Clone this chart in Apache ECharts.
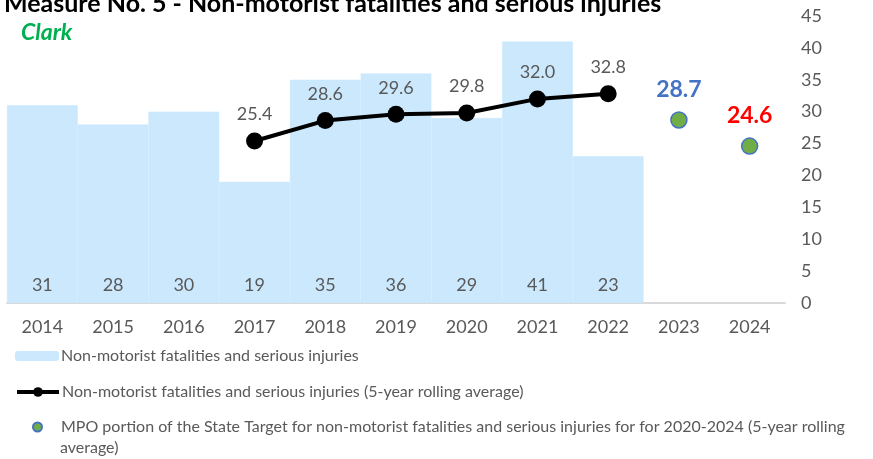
<!DOCTYPE html>
<html><head><meta charset="utf-8">
<script src="https://cdn.jsdelivr.net/npm/echarts@6/dist/echarts.min.js"></script>
<style>html,body{margin:0;padding:0;background:#fff}#c{width:873px;height:459px}</style>
</head><body><div id="c"></div>
<script>
const years = ['2014','2015','2016','2017','2018','2019','2020','2021','2022','2023','2024'];
const annual = [31, 28, 30, 19, 35, 36, 29, 41, 23, null, null];
const rolling = [null, null, null, 25.4, 28.6, 29.6, 29.8, 32.0, 32.8, null, null];
const target = [null, null, null, null, null, null, null, null, null, 28.7, 24.6];
const targetLabelColors = [null, null, null, null, null, null, null, null, null, '#4472C4', '#FF0000'];
const yTicks = [0, 45, 5];
const names = ['Non-motorist fatalities and serious injuries',
  'Non-motorist fatalities and serious injuries (5-year rolling average)',
  'MPO portion of the State Target for non-motorist fatalities and serious injuries for for 2020-2024 (5-year rolling average)'];
const wrapAt = ' average)';

const font = 'Lato, "Open Sans", sans-serif';
const targetData = target.map((v, i) => v == null ? null : {value: v, label: {color: targetLabelColors[i]}});

const chart = echarts.init(document.getElementById('c'));
chart.setOption({
  animation: false,
  textStyle: {fontFamily: font},
  title: [
    {text: 'Measure No. 5 - Non-motorist fatalities and serious injuries', left: -1, top: -14,
      textStyle: {fontSize: 25, fontWeight: 'bold', color: '#000', fontFamily: font}},
    {text: 'Clark', left: 16, top: 16,
      textStyle: {fontSize: 23, fontWeight: 'bold', fontStyle: 'italic', color: '#00B050', fontFamily: font}}
  ],
  grid: {left: 7, right: 88, top: 16, bottom: 156, containLabel: false},
  xAxis: {type: 'category', data: years,
    axisLine: {lineStyle: {color: '#D9D9D9', width: 2}},
    axisTick: {show: false},
    axisLabel: {color: '#595959', fontSize: 18, margin: 15}},
  yAxis: {type: 'value', position: 'right', min: yTicks[0], max: yTicks[1], interval: yTicks[2],
    splitLine: {show: false}, axisLine: {show: false}, axisTick: {show: false},
    axisLabel: {color: '#595959', fontSize: 18, margin: 16, align: 'left'}},
  legend: [
    {data: [names[0]], left: 15, top: 348, padding: 0, orient: 'vertical', itemWidth: 42, itemHeight: 8,
      textStyle: {color: '#595959', fontSize: 16, padding: [0, 0, 0, -2]}},
    {data: [names[1]], left: 15, top: 384, padding: 0, orient: 'vertical', itemWidth: 42, itemHeight: 12,
      lineStyle: {width: 4},
      textStyle: {color: '#595959', fontSize: 16, padding: [0, 0, 0, -2]}},
    {data: [{name: names[2], icon: 'circle'}], left: 32, top: 419, padding: 0, orient: 'vertical', itemWidth: 9, itemHeight: 9,
      formatter: n => n.replace(wrapAt, ''),
      textStyle: {color: '#595959', fontSize: 16, padding: [0, 0, 0, 14]}}
  ],
  graphic: [
    {type: 'text', left: 60, top: 440, style: {text: wrapAt.trim(), fill: '#595959', font: '16px ' + font}}
  ],
  series: [
    {name: names[0], type: 'bar', data: annual, barWidth: '100%', barGap: '-100%',
      itemStyle: {color: '#CBE8FD', borderColor: '#CBE8FD', borderWidth: 0.5},
      label: {show: true, position: 'insideBottom', distance: 9, color: '#595959', fontSize: 18},
      z: 1},
    {name: names[1], type: 'line', data: rolling, symbol: 'circle', symbolSize: 17,
      lineStyle: {color: '#000', width: 4}, itemStyle: {color: '#000'},
      label: {show: true, position: 'top', distance: 9, color: '#595959', fontSize: 18,
        formatter: p => p.value.toFixed(1)},
      z: 3},
    {name: names[2], type: 'scatter', data: targetData, symbol: 'circle', symbolSize: 16,
      itemStyle: {color: '#70AD47', borderColor: '#4472C4', borderWidth: 1.5, opacity: 1},
      label: {show: true, position: 'top', distance: 10, fontSize: 23, fontWeight: 'bold',
        formatter: p => p.value.toFixed(1)},
      z: 4}
  ]
});
</script></body></html>
